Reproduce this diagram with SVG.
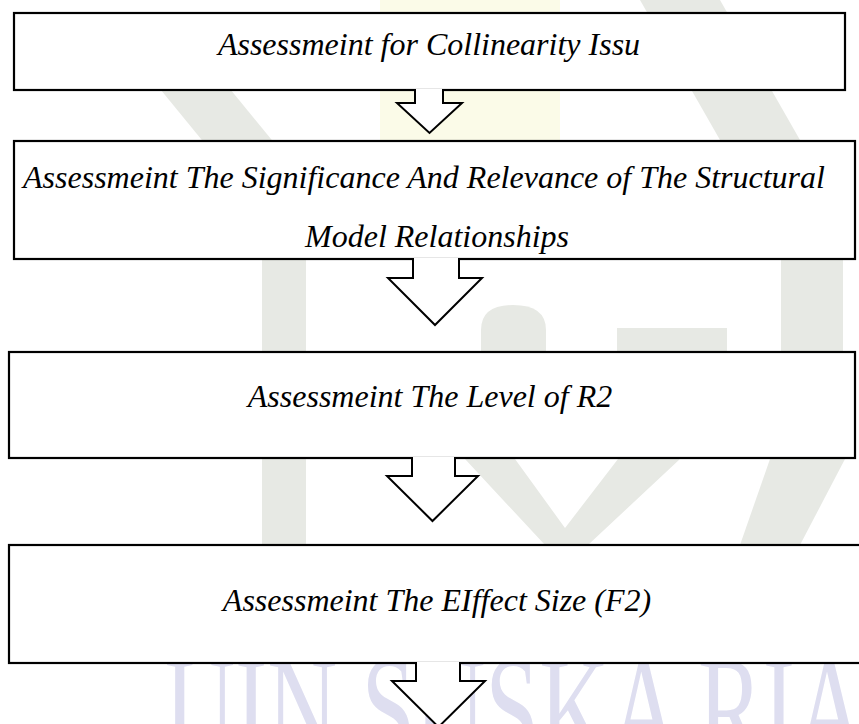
<svg xmlns="http://www.w3.org/2000/svg" width="859" height="724" viewBox="0 0 859 724">
  <style>
    .box { fill: #ffffff; stroke: #000000; stroke-width: 2.2; }
    .arrow { fill: #ffffff; stroke: #000000; stroke-width: 2; stroke-linejoin: miter; }
    .label { font-family: "Liberation Serif", "Times New Roman", serif; font-style: italic; font-size: 32px; fill: #000000; text-anchor: middle; }
    .wm { fill: #e7e9e4; }
    .wmy { fill: #fbfbe8; }
    .wmt { font-family: "Liberation Serif", "Times New Roman", serif; font-size: 150px; fill: #dedef0; }
  </style>
  <rect x="0" y="0" width="859" height="724" fill="#ffffff"/>
  <g id="watermark">
    <rect class="wmy" x="380" y="0" width="180" height="140"/>
    <polygon class="wm" points="120,40 190,40 280,150 210,150"/>
    <polygon class="wm" points="640,0 720,0 800,140 720,140"/>
    <rect class="wm" x="262" y="260" width="44" height="284"/>
    <path class="wm" d="M481,351 V330 Q481,305 513,305 Q546,305 546,330 V351 Z"/>
    <rect class="wm" x="617" y="328" width="110" height="23"/>
    <rect class="wm" x="781" y="260" width="62" height="91"/>
    <polygon class="wm" points="465,459 515,459 565,528 618,459 680,459 588,545 545,545"/>
    <polygon class="wm" points="770,459 845,459 800,545 740,545"/>
    <text class="wmt" x="165" y="760" textLength="700" lengthAdjust="spacingAndGlyphs">UIN SUSKA RIA</text>
  </g>
  <g id="node1">
    <rect class="box" x="14" y="13" width="831" height="77"/>
    <text class="label" x="429" y="55">Assessmeint for Collinearity Issu</text>
  </g>
  <g id="node2">
    <rect class="box" x="14" y="141" width="841" height="118"/>
    <text class="label" x="424" y="188">Assessmeint The Significance And Relevance of The Structural</text>
    <text class="label" x="437" y="247">Model Relationships</text>
  </g>
  <g id="node3">
    <rect class="box" x="9" y="352" width="846" height="106"/>
    <text class="label" x="430" y="407">Assessmeint The Level of R2</text>
  </g>
  <g id="node4">
    <rect class="box" x="9" y="545" width="860" height="118"/>
    <text class="label" x="437" y="611">Assessmeint The EIffect Size (F2)</text>
  </g>
  <g id="connectors">
    <path class="arrow" d="M415,89 V103 H397 L429.5,133 L462,103 H443 V89"/>
    <path class="arrow" d="M413,258 V278 H388 L435,325 L482,278 H459 V258"/>
    <path class="arrow" d="M412,457 V476 H387 L432.5,521 L478,476 H455 V457"/>
    <path class="arrow" d="M416,662 V681 H392 L438.5,727 L485,681 H460 V662"/>
  </g>
</svg>
